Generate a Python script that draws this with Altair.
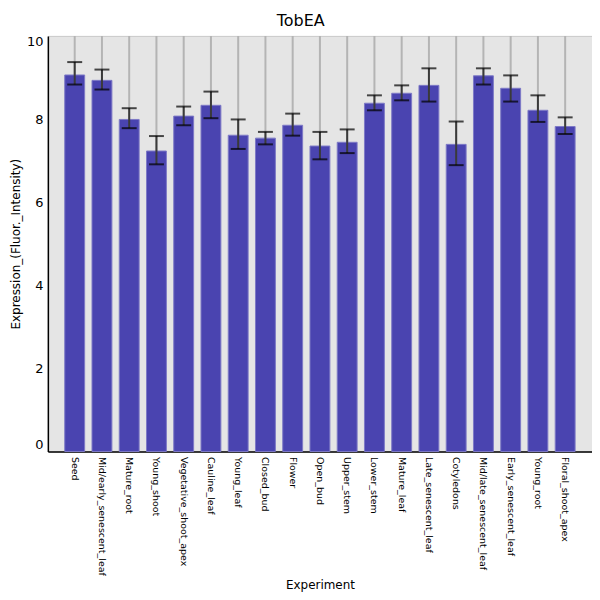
import altair as alt
import pandas as pd

experiments = ["Seed", "Mid/early_senescent_leaf", "Mature_root", "Young_shoot",
               "Vegetative_shoot_apex", "Cauline_leaf", "Young_leaf", "Closed_bud",
               "Flower", "Open_bud", "Upper_stem", "Lower_stem", "Mature_leaf",
               "Late_senescent_leaf", "Cotyledons", "Mid/late_senescent_leaf",
               "Early_senescent_leaf", "Young_root", "Floral_shoot_apex"]
expression = [9.06, 8.93, 7.99, 7.23, 8.07, 8.33, 7.61, 7.54, 7.85, 7.35,
              7.44, 8.38, 8.62, 8.81, 7.39, 9.04, 8.74, 8.21, 7.82]
err_high = [9.37, 9.19, 8.26, 7.59, 8.30, 8.66, 7.99, 7.69, 8.13, 7.69,
            7.75, 8.57, 8.81, 9.22, 7.94, 9.22, 9.05, 8.57, 8.04]
err_low = [8.83, 8.71, 7.78, 6.91, 7.85, 8.02, 7.28, 7.39, 7.60, 7.03,
           7.18, 8.21, 8.45, 8.42, 6.89, 8.83, 8.42, 7.93, 7.64]

df = pd.DataFrame({"Experiment": experiments, "Expression": expression,
                   "hi": err_high, "lo": err_low})

H = 417
x = alt.X("Experiment:N", sort=experiments, title="Experiment",
          scale=alt.Scale(paddingInner=0.27, paddingOuter=0.62),
          axis=alt.Axis(labelAngle=90, labelFontSize=9.5, labelColor="black",
                        tickSize=0, labelPadding=5, grid=False,
                        titleFontSize=12, titleFontWeight="normal",
                        titlePadding=4, domainColor="black", domainWidth=1.5))
y = alt.Y("Expression:Q", title="Expression_(Fluor._Intensity)",
          scale=alt.Scale(domain=[0, 10], nice=False),
          axis=alt.Axis(values=[0, 2, 4, 6, 8, 10], labelFontSize=13,
                        labelColor="black", labelFlush=True, tickSize=0,
                        labelPadding=5, gridColor="#c4c4c4", gridWidth=1.5,
                        titleFontSize=12, titleFontWeight="normal",
                        domainColor="black", domainWidth=1.5))

# vertical grid through each bar centre
vgrid = alt.Chart(df).mark_rule(color="#b4b4b4", strokeWidth=2).encode(
    x=x, y=alt.datum(0), y2=alt.datum(10))
bars = alt.Chart(df).mark_bar(color="#4a44b0", stroke="#7d79c6",
                              strokeWidth=1).encode(x=x, y=y)
stems = alt.Chart(df).mark_rule(color="#3a3a3a", strokeWidth=2).encode(
    x=x, y="lo:Q", y2="hi:Q")
caps_hi = alt.Chart(df).mark_tick(color="black", orient="horizontal",
                                  size=15, thickness=2).encode(x=x, y="hi:Q")
caps_lo = alt.Chart(df).mark_tick(color="black", orient="horizontal",
                                  size=15, thickness=2).encode(x=x, y="lo:Q")

chart = alt.layer(vgrid, bars, stems, caps_hi, caps_lo).properties(
    width=546, height=H,
    title=alt.TitleParams("TobEA", fontSize=16, fontWeight="normal",
                          anchor="middle", frame="bounds", offset=6),
    padding={"left": 1, "top": 4, "right": 0, "bottom": 2},
).configure(font="DejaVu Sans").configure_view(
    fill="#e5e5e5", stroke="#c8c8c8"
)

chart.save("out.html", embed_options={"renderer": "svg", "actions": False})
